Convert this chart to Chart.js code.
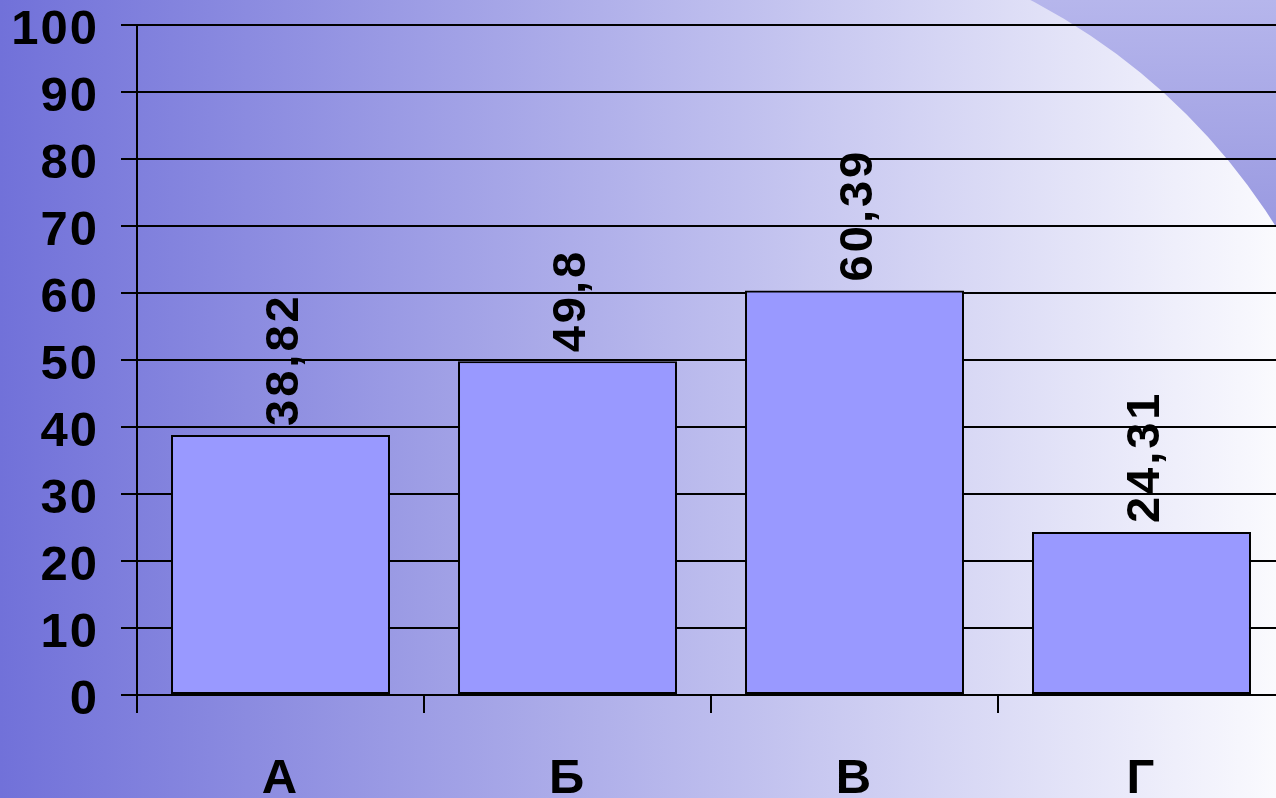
<html>
<head>
  <title>Bar chart</title>
  <script src="https://cdn.jsdelivr.net/npm/chart.js"></script>
  <style>
    html, body { margin: 0; padding: 0; overflow: hidden; background: #e0e0f6; }
  </style>
</head>
<body>
  <canvas id="barChart" width="1285" height="798"></canvas>

  <script>
    // Chart data
    const categories = ['А', 'Б', 'В', 'Г'];
    const values = [38.82, 49.8, 60.39, 24.31];
    const valueLabels = ['38,82', '49,8', '60,39', '24,31'];
    const yTicks = [0, 10, 20, 30, 40, 50, 60, 70, 80, 90, 100];

    const FONT = '"Liberation Sans", Arial, sans-serif';

    // Slide-like background: horizontal gradient plus the curved corner
    const backgroundPlugin = {
      id: 'slideBackground',
      beforeDraw(chart) {
        const ctx = chart.ctx;
        const w = chart.width, h = chart.height;
        ctx.save();
        const g = ctx.createLinearGradient(0, 0, 1276, 0);
        g.addColorStop(0, '#7171d9');
        g.addColorStop(0.5, '#b4b4eb');
        g.addColorStop(1, '#fafafe');
        ctx.fillStyle = g;
        ctx.fillRect(0, 0, w, h);

        // region outside the big circle, top right corner
        ctx.beginPath();
        ctx.rect(800, 0, w - 800, 320);
        ctx.clip();
        ctx.beginPath();
        ctx.rect(0, 0, w, h);
        ctx.arc(739, 562, 633, 0, Math.PI * 2);
        const g2 = ctx.createLinearGradient(0, 0, 0, 240);
        g2.addColorStop(0, '#b6b6ec');
        g2.addColorStop(1, '#9898e0');
        ctx.fillStyle = g2;
        ctx.fill('evenodd');
        ctx.restore();
        // the slide text is a little spaced out
        ctx.letterSpacing = '2px';
      }
    };

    // Rotated value labels above each bar
    const valueLabelPlugin = {
      id: 'valueLabels',
      afterDatasetsDraw(chart) {
        const ctx = chart.ctx;
        const meta = chart.getDatasetMeta(0);
        ctx.save();
        ctx.fillStyle = '#000';
        ctx.font = 'bold 47px ' + FONT;
        ctx.letterSpacing = '3px';
        ctx.textAlign = 'left';
        ctx.textBaseline = 'middle';
        meta.data.forEach((bar, i) => {
          ctx.save();
          ctx.translate(bar.x + 5, bar.y - 9);
          ctx.rotate(-Math.PI / 2);
          ctx.fillText(valueLabels[i], 0, 0);
          ctx.restore();
        });
        ctx.restore();
      }
    };

    const ctx = document.getElementById('barChart').getContext('2d');
    const barChart = new Chart(ctx, {
      type: 'bar',
      data: {
        labels: categories,
        datasets: [{
          data: values,
          backgroundColor: '#9999ff',
          borderColor: '#000',
          borderWidth: 2,
          borderSkipped: false,
          categoryPercentage: 1,
          barPercentage: 0.763
        }]
      },
      options: {
        responsive: false,
        animation: false,
        layout: { padding: { top: 25, right: 0, left: 0, bottom: 0 } },
        plugins: {
          legend: { display: false },
          tooltip: { enabled: false }
        },
        scales: {
          x: {
            grid: {
              display: true,
              drawOnChartArea: false,
              offset: true,
              color: '#000',
              lineWidth: 2,
              tickLength: 18
            },
            border: { display: true, color: '#000', width: 2 },
            ticks: {
              color: '#000',
              font: { family: FONT, size: 49, weight: 'bold' },
              padding: 37,
              maxRotation: 0
            },
            afterFit(scale) {
              scale.height = 103;
              scale.paddingLeft = 0;
              scale.paddingRight = 0;
            }
          },
          y: {
            min: 0,
            max: 100,
            afterBuildTicks(scale) {
              scale.ticks = yTicks.map(v => ({ value: v }));
            },
            grid: {
              color: '#000',
              lineWidth: 2,
              tickLength: 16
            },
            border: { display: true, color: '#000', width: 2 },
            ticks: {
              color: '#000',
              font: { family: FONT, size: 49, weight: 'bold' },
              padding: 22,
              labelOffset: 5
            },
            afterFit(scale) {
              scale.width = 137;
              scale.paddingTop = 0;
              scale.paddingBottom = 0;
            }
          }
        }
      },
      plugins: [backgroundPlugin, valueLabelPlugin]
    });
  </script>
</body>
</html>
